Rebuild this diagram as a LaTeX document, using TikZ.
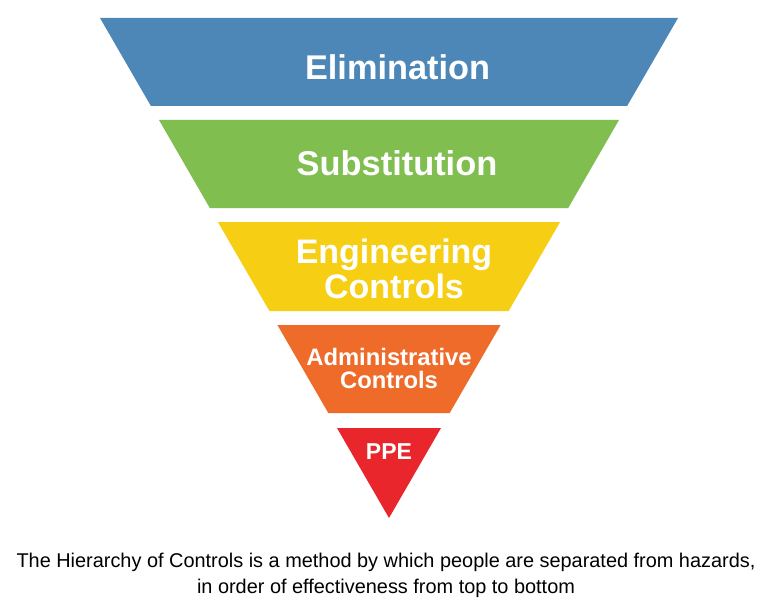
\documentclass[tikz,border=0pt]{standalone}
\usepackage{fontspec}
\setmainfont{Liberation Sans}
\definecolor{cblue}{HTML}{4D87B8}
\definecolor{cgreen}{HTML}{80BE50}
\definecolor{cyellow}{HTML}{F6CF14}
\definecolor{corange}{HTML}{EE6B2A}
\definecolor{cred}{HTML}{E8262C}
\begin{document}
\begin{tikzpicture}[x=1pt,y=-1pt,
  bandlabel/.style={text=white,font=\bfseries,align=center,inner sep=0pt},
  caption/.style={text=black,align=center,inner sep=0pt,font=\fontsize{19.9}{26}\selectfont}]
\useasboundingbox[fill=white] (0,0) rectangle (773,607);
\fill[cblue] (100,18) -- (678,18) -- (627.1,106) -- (150.9,106) -- cycle;
\fill[cgreen] (159,120) -- (619,120) -- (568.2,208) -- (209.8,208) -- cycle;
\fill[cyellow] (217.9,222) -- (560.1,222) -- (508.6,311) -- (269.4,311) -- cycle;
\fill[corange] (277.4,325) -- (500.6,325) -- (449.7,413) -- (328.3,413) -- cycle;
\fill[cred] (337,428) -- (441,428) -- (389,518) -- cycle;
\node[bandlabel,font=\bfseries\fontsize{34.3}{36}\selectfont] (elim) at (397.5,67) {Elimination};
\node[bandlabel,font=\bfseries\fontsize{34.4}{36}\selectfont] (subst) at (397,163) {Substitution};
\node[bandlabel,font=\bfseries\fontsize{34}{35}\selectfont] (eng) at (394,268.5) {Engineering\\Controls};
\node[bandlabel,font=\bfseries\fontsize{23.8}{23}\selectfont] (admin) at (389,368.5) {Administrative\\Controls};
\node[bandlabel,font=\bfseries\fontsize{23}{24}\selectfont] (ppe) at (389,452) {PPE};
\node[caption] (cap) at (386,575) {The Hierarchy of Controls is a method by which people are separated from hazards,\\in order of effectiveness from top to bottom};
\end{tikzpicture}
\end{document}
